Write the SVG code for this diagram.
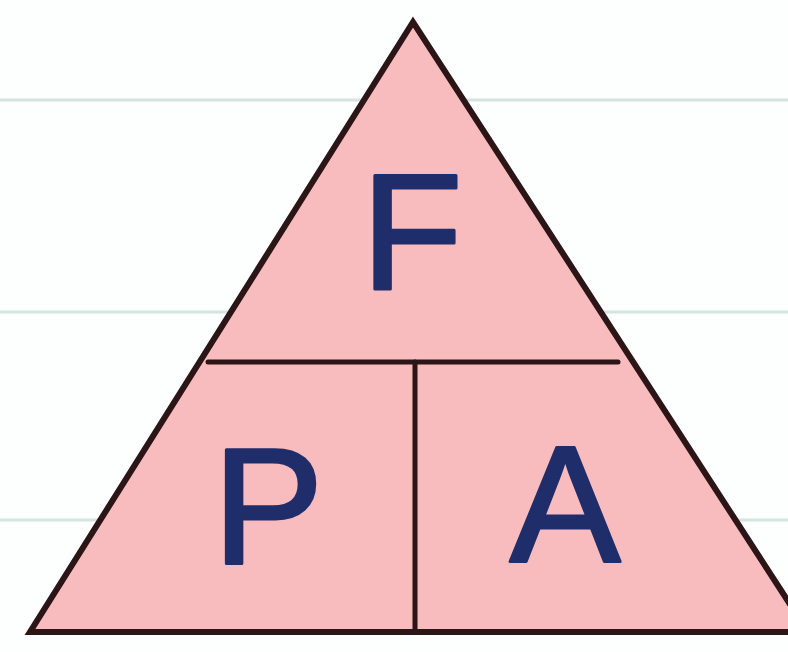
<svg xmlns="http://www.w3.org/2000/svg" width="788" height="652" viewBox="0 0 788 652">
<style>
.rule{stroke:#d6e3e0;stroke-width:3}
.edge{stroke:#2b1516;stroke-width:5;fill:none;stroke-linecap:round}
.lbl{font-family:"Liberation Sans","DejaVu Sans",sans-serif;font-size:166px;fill:#1f2d6b;stroke:#1f2d6b;stroke-width:3;stroke-linejoin:round;text-anchor:middle}
</style>
<rect width="788" height="652" fill="#fdfefe"/>
<g id="rules">
<line class="rule" x1="0" y1="100" x2="788" y2="100"/>
<line class="rule" x1="0" y1="312" x2="788" y2="312"/>
<line class="rule" x1="0" y1="520" x2="788" y2="520"/>
</g>
<g id="triangle">
<polygon points="413,22 30,632 808,632" fill="#f8bcbe" stroke="#2b1516" stroke-width="6" stroke-linejoin="miter"/>
</g>
<g id="connectors">
<line class="edge" x1="208" y1="362" x2="618" y2="362"/>
<line class="edge" x1="415" y1="362" x2="415" y2="632"/>
</g>
<g id="node-F"><text class="lbl" x="412" y="289">F</text></g>
<g id="node-P"><text class="lbl" x="268" y="563">P</text></g>
<g id="node-A"><text class="lbl" x="565" y="561">A</text></g>
</svg>
